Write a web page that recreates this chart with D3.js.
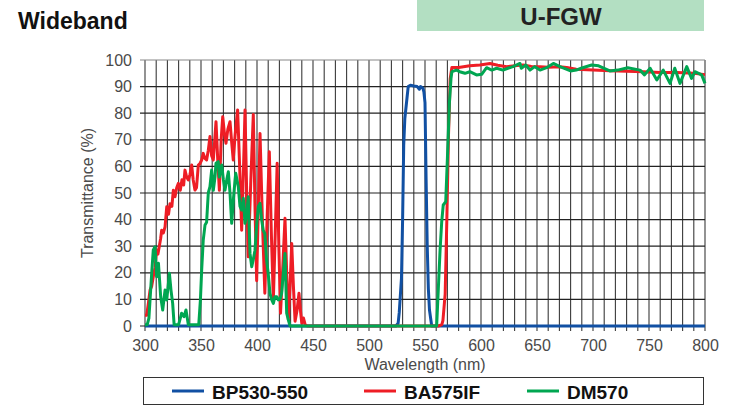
<!DOCTYPE html>
<html>
<head>
<meta charset="utf-8">
<script src="https://cdn.jsdelivr.net/npm/d3@7"></script>
<style>
	body { margin: 0; background: #fff; }
	svg { display: block; }
	text { font-family: "Liberation Sans", Arial, sans-serif; }
</style>
</head>
<body>
<div id="chart"></div>
<script>
// transmittance curves, [wavelength nm, %]
var bp530Data = [
	[300, 0], [524, 0], [526, 1], [527, 5], [529, 18], [530, 40], [531, 68], [532, 78], [534, 86],
	[535, 90], [537, 90.5], [540, 90.2], [543, 90], [545, 89], [546, 90], [548, 89.5], [549, 88],
	[550, 84], [551, 55], [552, 30], [553, 14], [554, 6], [556, 0], [800, 0]
];

var ba575Data = [
	[300, 4], [301.5, 4], [303, 8.5], [304.5, 13.5], [306, 15], [307.4, 18.5], [309, 22], [310.4, 28.6],
	[311.5, 27], [312.8, 30], [314, 33], [314.9, 36], [316.4, 35], [317.9, 37.3], [319.4, 44.8], [321, 42],
	[322.3, 46], [324, 45], [325.3, 51], [326.8, 48.6], [328.3, 52], [329.8, 53.6], [331.5, 51], [333, 55],
	[334.5, 53], [335.7, 58.6], [337.2, 56], [338.7, 54.9], [340.2, 57], [341.7, 60.5], [343, 55],
	[344.6, 51.1], [346, 52], [347.6, 60.5], [349, 61], [350.6, 62.4], [352, 64.9], [353.5, 63],
	[355, 62.4], [356.5, 66], [358, 71.2], [359.5, 64], [361, 62.4], [363.4, 76.8], [365, 62],
	[366.4, 51], [368, 70], [369.4, 78.7], [371, 72], [372.3, 68.7], [374, 74], [375.9, 76.8],
	[377.4, 69], [378.8, 62.4], [380.5, 72], [382.7, 81.2], [384.5, 60], [386.3, 36], [388, 60],
	[389.3, 81.2], [390.8, 50], [392.2, 26], [394.5, 55], [396.7, 79.5], [398.2, 45], [399.7, 17],
	[401.2, 45], [402.7, 72.4], [404.8, 40], [407, 12.3], [409, 40], [411, 65.5], [412.8, 35],
	[414.6, 9.8], [416.3, 35], [418, 61.2], [419.5, 30], [421, 4.8], [423, 22], [425, 40.5], [426.5, 20],
	[428, 2.3], [429.5, 15], [431, 31], [432.5, 15], [434, 1.8], [435.8, 6], [437.5, 12.3], [439, 5],
	[440, 1], [441.5, 3], [443, 0.5], [445, 0], [562, 0], [565, 0.5], [566, 2], [568, 12], [569.5, 40],
	[571, 72], [572.5, 93], [574, 97.2], [580, 97.2], [590, 97.8], [599, 98.1], [608, 98.7], [615, 98],
	[623, 97.5], [630, 97.8], [637.6, 98.1], [645, 97.6], [652.7, 97.5], [660, 97.3], [670, 97.5],
	[676.5, 97.2], [685, 96.5], [700, 96.2], [715, 96], [730, 95.8], [745, 95.6], [760, 95.3],
	[775, 95.3], [790, 95], [800, 94.5]
];

var dm570Data = [
	[300, 0.5], [302, 0.5], [303.5, 3], [304.5, 9.8], [306, 20], [307.4, 28.6], [309, 29.8], [310.4, 18.5],
	[312, 23.6], [314, 11], [315.8, 6], [317.9, 13.5], [319.4, 9.8], [321.8, 19.8], [323.2, 13.5],
	[324.7, 8.5], [326, 0.5], [330, 0.5], [332.7, 4.8], [334.8, 3.5], [336.6, 6], [338.7, 0.5],
	[348, 0.5], [349.5, 10], [350.6, 21], [352, 32.3], [353.6, 38], [355, 39], [356.5, 50], [358, 52.4],
	[359.5, 58.6], [361, 51], [362.5, 56], [363.4, 61.2], [365.4, 61.8], [366.4, 56], [368.5, 60.5],
	[370, 55], [371.4, 51], [373, 55], [374.4, 58], [375.9, 50], [377.4, 38.6], [379, 48], [380.4, 54.9],
	[381, 57.4], [383.3, 52.4], [384.8, 45], [386.3, 43.6], [387.8, 48], [389.3, 38.6], [390.8, 42],
	[392.2, 48.6], [393.75, 27.3], [395.3, 22.3], [396.7, 25], [398.2, 28.5], [399.7, 38], [401.2, 44.9],
	[402.7, 46.1], [404.2, 39.8], [405.5, 36], [407, 34.8], [408.5, 25], [410, 19.8], [411.6, 12.3],
	[413, 10], [414.6, 8.5], [416, 11], [417.6, 11], [419, 9.8], [420.5, 10], [422, 12.3], [423.5, 20],
	[425, 27.3], [426.5, 4.8], [428, 2.3], [429.5, 0], [560.4, 0], [561.9, 14], [563.4, 28], [564.9, 39],
	[566.3, 45.5], [568.5, 46.7], [570, 63], [571.8, 84], [573.2, 93], [574, 95.6], [578, 96.2],
	[581, 95.6], [585.7, 95], [590, 95.6], [596, 94.4], [600.6, 94.6], [605, 97.1], [609.6, 96.2],
	[614, 96.9], [619.6, 96.2], [624, 96.9], [628.6, 97.5], [634.8, 98.7], [636, 96.9], [640, 98.1],
	[643.75, 96.2], [648, 97.5], [652.7, 96.2], [658.6, 97.1], [664.6, 98.7], [670.5, 97.5], [680, 95.9],
	[685, 96.2], [690, 97], [698.8, 98.1], [705, 97.8], [715, 95.9], [722, 96.2], [731, 97.1], [742, 96.2],
	[746, 94.4], [751, 96.9], [757, 92.5], [762.7, 96.2], [768.8, 91.2], [773, 96.9], [777.7, 91.2],
	[783.7, 97.5], [788, 93.1], [791, 95.6], [797, 94.4], [800, 91.2]
];

var seriesNames = ["BP530-550", "BA575IF", "DM570"];
var seriesColors = ["#1150a3", "#ee1d25", "#00a651"];
var xTicks = [300, 350, 400, 450, 500, 550, 600, 650, 700, 750, 800];
var yTicks = [0, 10, 20, 30, 40, 50, 60, 70, 80, 90, 100];

var W = 732, H = 414;
var plot = {left: 145, right: 705, top: 60, bottom: 326};

var svg = d3.select("#chart").append("svg")
	.attr("width", W).attr("height", H);

// header: title on the left, filter name in the green box
svg.append("text").attr("x", 18).attr("y", 29)
	.attr("font-size", 23).attr("font-weight", "bold").attr("fill", "#111")
	.text("Wideband");
svg.append("rect").attr("x", 417).attr("y", 0).attr("width", 287).attr("height", 31)
	.attr("fill", "#b3dfc2");
svg.append("text").attr("x", 561).attr("y", 25).attr("text-anchor", "middle")
	.attr("font-size", 24).attr("font-weight", "bold").attr("fill", "#222")
	.text("U-FGW");

var x = d3.scaleLinear().domain([300, 800]).range([plot.left, plot.right]);
var y = d3.scaleLinear().domain([0, 100]).range([plot.bottom, plot.top]);

// grid, every 10 nm and every 10 %
var grid = svg.append("g");
grid.selectAll("line.v").data(d3.range(300, 801, 10)).enter().append("line")
	.attr("class", "v")
	.attr("x1", function (d) { return x(d); }).attr("x2", function (d) { return x(d); })
	.attr("y1", plot.top).attr("y2", plot.bottom + 5)
	.attr("stroke", "#3a3a3a").attr("stroke-width", 1.1);
grid.selectAll("line.h").data(yTicks).enter().append("line")
	.attr("class", "h")
	.attr("x1", plot.left - 5).attr("x2", plot.right)
	.attr("y1", function (d) { return y(d); }).attr("y2", function (d) { return y(d); })
	.attr("stroke", function (d) { return d == 100 ? "#888" : "#222"; })
	.attr("stroke-width", 1.2);

// axes, only for the labels
var xAxis = svg.append("g").attr("transform", "translate(0," + plot.bottom + ")")
	.call(d3.axisBottom(x).tickValues(xTicks).tickSize(0).tickPadding(14));
var yAxis = svg.append("g").attr("transform", "translate(" + plot.left + ",0)")
	.call(d3.axisLeft(y).tickValues(yTicks).tickSize(0).tickPadding(13));
[xAxis, yAxis].forEach(function (a) {
	a.select(".domain").remove();
	a.selectAll("text").attr("font-size", 16).attr("fill", "#4a4a4a")
		.attr("font-family", "'Liberation Sans', Arial, sans-serif");
});

svg.append("text")
	.attr("transform", "translate(93," + ((plot.top + plot.bottom) / 2) + ") rotate(-90)")
	.attr("text-anchor", "middle").attr("font-size", 16).attr("fill", "#4a4a4a")
	.text("Transmittance (%)");
svg.append("text").attr("x", (plot.left + plot.right) / 2).attr("y", 370)
	.attr("text-anchor", "middle").attr("font-size", 16).attr("fill", "#4a4a4a")
	.text("Wavelength (nm)");

// curves: blue under red under green
var line = d3.line()
	.x(function (d) { return x(d[0]); })
	.y(function (d) { return y(d[1]); });
[bp530Data, ba575Data, dm570Data].forEach(function (data, i) {
	svg.append("path").datum(data)
		.attr("d", line)
		.attr("fill", "none")
		.attr("stroke", seriesColors[i])
		.attr("stroke-width", 3)
		.attr("stroke-linejoin", "round");
});

// legend box under the axis title
var legend = svg.append("g");
legend.append("rect").attr("x", 143.5).attr("y", 377.5).attr("width", 560).attr("height", 27)
	.attr("fill", "#fff").attr("stroke", "#333").attr("stroke-width", 1);
var legendX = [172, 364, 527];
seriesNames.forEach(function (name, i) {
	legend.append("line")
		.attr("x1", legendX[i]).attr("x2", legendX[i] + 32)
		.attr("y1", 391).attr("y2", 391)
		.attr("stroke", seriesColors[i]).attr("stroke-width", 3);
	legend.append("text").attr("x", legendX[i] + 40).attr("y", 399)
		.attr("font-size", 19).attr("font-weight", "bold").attr("fill", "#111")
		.text(name);
});
</script>
</body>
</html>
